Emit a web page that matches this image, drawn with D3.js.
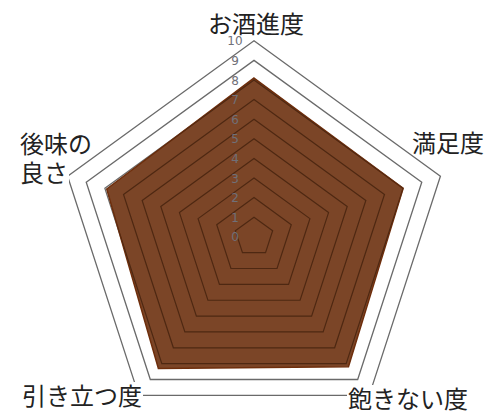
<!DOCTYPE html>
<html><head><meta charset="utf-8">
<script src="https://cdn.jsdelivr.net/npm/d3@7"></script>
<style>body{margin:0;background:#fff}svg{display:block}</style>
</head><body>
<svg id="c" width="500" height="420"></svg>
<script>
const axes = ["お酒進度","満足度","飽きない度","引き立つ度","後味の良さ"];
const values = [8.1, 8.0, 8.2, 8.3, 7.9];
const levels = [1,2,3,4,5,6,7,8,9,10];
const tickLabels = ["0","1","2","3","4","5","6","7","8","9","10"];

const svg = d3.select("#c");
const cx = 254, cy = 236.8;
const r = d3.scaleLinear().domain([0,10]).range([0,196]);
const ang = d3.scaleLinear().domain([0, axes.length]).range([0, 2*Math.PI]);
const pt = (i, v) => [cx + r(v)*Math.sin(ang(i)), cy - r(v)*Math.cos(ang(i))];
const polyPath = vals => "M" + vals.map((v,i)=>pt(i,v).join(",")).join("L") + "Z";

const lab = [
  {t:["お酒進度"], x:256, y:33, a:"middle"},
  {t:["満足度"], x:412, y:152, a:"start"},
  {t:["飽きない度"], x:348, y:408, a:"start"},
  {t:["引き立つ度"], x:22, y:405, a:"start"},
  {t:["後味の","良さ"], x:20, y:153, a:"start"}
];

// grid
const grid = svg.append("g");
grid.selectAll("path").data(levels).join("path")
  .attr("d", l => polyPath(axes.map(()=>l)))
  .attr("fill","none").attr("stroke","#6a6a6a").attr("stroke-width",1.3);

// label backings + labels
const lg = svg.append("g");
lab.forEach((L,k)=>{
  L.t.forEach((s,j)=>{
    const text = lg.append("text").attr("x",L.x).attr("y",L.y + j*29)
      .attr("text-anchor",L.a)
      .attr("font-family","Noto Sans CJK JP, sans-serif").attr("font-size",24)
      .attr("fill","#222").text(s);
    const bb = text.node().getBBox();
    lg.insert("rect", () => text.node())
      .attr("x", bb.x-1).attr("y", bb.y+5).attr("width", bb.width+2).attr("height", bb.height-10)
      .attr("fill","#fff");
  });
});

// data
svg.append("defs").append("clipPath").attr("id","dc")
  .append("path").attr("d", polyPath(values));
svg.append("path").attr("d", polyPath(values))
  .attr("fill","#7b4527").attr("stroke","#6e2e0c").attr("stroke-width",1.5)
  .attr("stroke-linejoin","miter");
svg.append("g").attr("clip-path","url(#dc)")
  .selectAll("path").data(levels).join("path")
  .attr("d", l => polyPath(axes.map(()=>l)))
  .attr("fill","none").attr("stroke","#4e2812").attr("stroke-width",1.2);

// tick labels
svg.append("g").selectAll("text").data(tickLabels).join("text")
  .attr("x", cx-19).attr("y", (d,i)=>cy - r(i) + 4.5)
  .attr("text-anchor","middle")
  .attr("font-family","DejaVu Sans, sans-serif").attr("font-size",12)
  .attr("fill","#707078").text(d=>d);
</script>
</body></html>
